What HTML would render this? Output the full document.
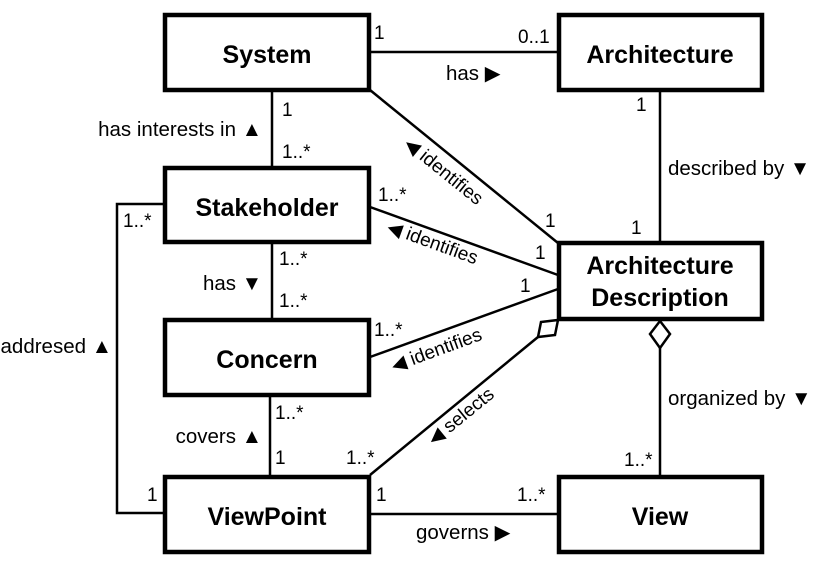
<!DOCTYPE html>
<html><head><style>
html,body{margin:0;padding:0;background:#fff;}
svg{display:block;font-family:"Liberation Sans",sans-serif;}
.b{fill:#fff;stroke:#000;stroke-width:4.5;}
.l{stroke:#000;stroke-width:2.5;fill:none;}
.n{font-size:25px;font-weight:bold;text-anchor:middle;}
.t{font-size:19px;}
.w{font-size:20.5px;}
.e{text-anchor:end;}
</style></head><body>
<svg width="831" height="564" viewBox="0 0 831 564">
<line class="l" x1="370" y1="52" x2="558" y2="52"/>
<line class="l" x1="272" y1="90" x2="272" y2="167"/>
<line class="l" x1="272" y1="242" x2="272" y2="319"/>
<line class="l" x1="270" y1="395" x2="270" y2="476"/>
<line class="l" x1="660" y1="90" x2="660" y2="243"/>
<line class="l" x1="660" y1="348" x2="660" y2="476"/>
<line class="l" x1="370" y1="514" x2="558" y2="514"/>
<polyline class="l" points="163,204 117,204 117,513 163,513"/>
<line class="l" x1="370" y1="90" x2="558" y2="243"/>
<line class="l" x1="370" y1="207" x2="558" y2="275"/>
<line class="l" x1="370" y1="357" x2="558" y2="289"/>
<line class="l" x1="370" y1="475" x2="538" y2="337"/>
<polygon points="558,320 555,335 538,337 541,322" fill="#fff" stroke="#000" stroke-width="2.5"/>
<polygon points="660,321 670,334 660,348 650,334" fill="#fff" stroke="#000" stroke-width="2.5"/>
<rect class="b" x="165" y="15" width="204" height="75"/>
<rect class="b" x="559" y="15" width="203" height="75"/>
<rect class="b" x="165" y="168" width="204" height="74"/>
<rect class="b" x="559" y="243" width="203" height="76"/>
<rect class="b" x="165" y="320" width="204" height="75"/>
<rect class="b" x="165" y="477" width="204" height="75"/>
<rect class="b" x="559" y="477" width="203" height="75"/>
<text class="n" x="267" y="63">System</text>
<text class="n" x="660" y="63">Architecture</text>
<text class="n" x="267" y="216">Stakeholder</text>
<text class="n" x="660" y="274">Architecture</text>
<text class="n" x="660" y="306">Description</text>
<text class="n" x="267" y="368">Concern</text>
<text class="n" x="267" y="525">ViewPoint</text>
<text class="n" x="660" y="525">View</text>
<g class="t">
<text x="374" y="39">1</text>
<text x="518" y="43">0..1</text>
<text class="w" x="446" y="80">has ▶</text>
<text x="282" y="116">1</text>
<text x="282" y="158">1..*</text>
<text class="e w" x="262" y="136">has interests in ▲</text>
<text x="378" y="201">1..*</text>
<text x="545" y="227">1</text>
<text x="535" y="259">1</text>
<text x="520" y="292">1</text>
<text x="636" y="111">1</text>
<text x="631" y="234">1</text>
<text class="w" x="668" y="175">described by ▼</text>
<text x="123" y="227">1..*</text>
<text x="279" y="265">1..*</text>
<text x="279" y="307">1..*</text>
<text class="e w" x="262" y="290">has ▼</text>
<text class="e w" x="112" y="353">addresed ▲</text>
<text x="374" y="336">1..*</text>
<text x="275" y="419">1..*</text>
<text x="275" y="464">1</text>
<text class="e w" x="262" y="443">covers ▲</text>
<text x="346" y="464">1..*</text>
<text x="147" y="501">1</text>
<text x="376" y="501">1</text>
<text x="517" y="501">1..*</text>
<text class="w" x="416" y="539">governs ▶</text>
<text x="624" y="466">1..*</text>
<text class="w" x="668" y="405">organized by ▼</text>
<text transform="translate(403,146) rotate(39)">◀ identifies</text>
<text transform="translate(386,232) rotate(20)">◀ identifies</text>
<text transform="translate(394,372) rotate(-20)">◀ identifies</text>
<text transform="translate(434,446) rotate(-39)">◀ selects</text>
</g>
</svg>
</body></html>
